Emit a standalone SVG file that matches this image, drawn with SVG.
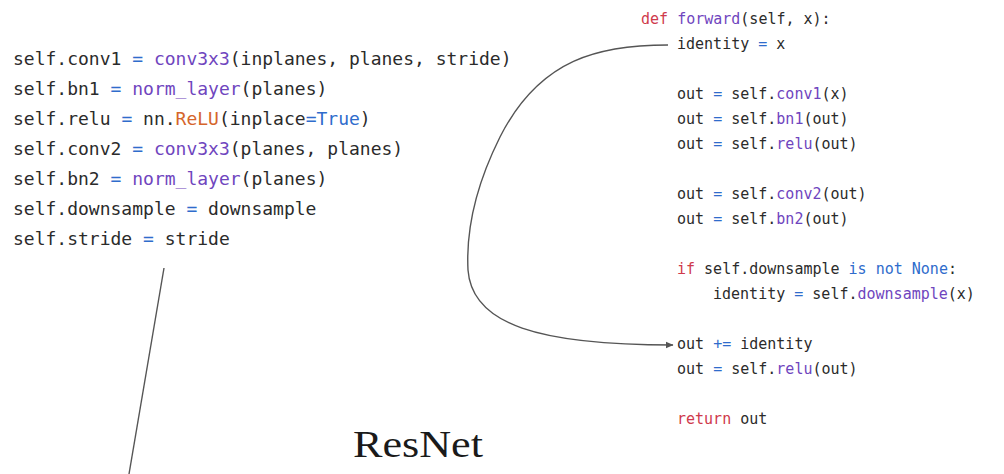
<svg xmlns="http://www.w3.org/2000/svg" width="1004" height="474" viewBox="0 0 1004 474">
<style>
.code{font-family:"DejaVu Sans Mono","Liberation Mono",monospace;fill:#2b2b2b;white-space:pre}
.l{font-size:18px}
.r{font-size:15px}
.kw{fill:#cf3a4c}
.fn{fill:#6f45be}
.op{fill:#2f6ccc}
.cl{fill:#d5652b}
.conn{fill:none;stroke:#555;stroke-width:1.4}
.title{font-family:"Liberation Serif","DejaVu Serif",serif;font-size:38px;fill:#1a1a1a}
</style>
<defs>
<marker id="arr" markerWidth="8" markerHeight="8" refX="7" refY="4" orient="auto" markerUnits="userSpaceOnUse">
<path d="M0,0.8 L7.5,4 L0,7.2 Z" fill="#555"/>
</marker>
</defs>
<rect width="1004" height="474" fill="#fff"/>
<g id="init-code" class="code l">
<text x="13" y="65" xml:space="preserve">self.conv1 <tspan class="op">=</tspan> <tspan class="fn">conv3x3</tspan>(inplanes, planes, stride)</text>
<text x="13" y="95" xml:space="preserve">self.bn1 <tspan class="op">=</tspan> <tspan class="fn">norm_layer</tspan>(planes)</text>
<text x="13" y="125" xml:space="preserve">self.relu <tspan class="op">=</tspan> nn.<tspan class="cl">ReLU</tspan>(inplace<tspan class="op">=True</tspan>)</text>
<text x="13" y="155" xml:space="preserve">self.conv2 <tspan class="op">=</tspan> <tspan class="fn">conv3x3</tspan>(planes, planes)</text>
<text x="13" y="185" xml:space="preserve">self.bn2 <tspan class="op">=</tspan> <tspan class="fn">norm_layer</tspan>(planes)</text>
<text x="13" y="215" xml:space="preserve">self.downsample <tspan class="op">=</tspan> downsample</text>
<text x="13" y="245" xml:space="preserve">self.stride <tspan class="op">=</tspan> stride</text>
</g>
<g id="forward-code" class="code r">
<text x="641" y="24" xml:space="preserve"><tspan class="kw">def</tspan> <tspan class="fn">forward</tspan>(self, x):</text>
<text x="677" y="49" xml:space="preserve">identity <tspan class="op">=</tspan> x</text>
<text x="677" y="99" xml:space="preserve">out <tspan class="op">=</tspan> self.<tspan class="fn">conv1</tspan>(x)</text>
<text x="677" y="124" xml:space="preserve">out <tspan class="op">=</tspan> self.<tspan class="fn">bn1</tspan>(out)</text>
<text x="677" y="149" xml:space="preserve">out <tspan class="op">=</tspan> self.<tspan class="fn">relu</tspan>(out)</text>
<text x="677" y="199" xml:space="preserve">out <tspan class="op">=</tspan> self.<tspan class="fn">conv2</tspan>(out)</text>
<text x="677" y="224" xml:space="preserve">out <tspan class="op">=</tspan> self.<tspan class="fn">bn2</tspan>(out)</text>
<text x="677" y="274" xml:space="preserve"><tspan class="kw">if</tspan> self.downsample <tspan class="op">is not None</tspan>:</text>
<text x="713" y="299" xml:space="preserve">identity <tspan class="op">=</tspan> self.<tspan class="fn">downsample</tspan>(x)</text>
<text x="677" y="349" xml:space="preserve">out <tspan class="op">+=</tspan> identity</text>
<text x="677" y="374" xml:space="preserve">out <tspan class="op">=</tspan> self.<tspan class="fn">relu</tspan>(out)</text>
<text x="677" y="424" xml:space="preserve"><tspan class="kw">return</tspan> out</text>
</g>
<g id="title">
<text class="title" x="353" y="457" textLength="130" lengthAdjust="spacingAndGlyphs">ResNet</text>
</g>
<g id="connectors">
<path class="conn" d="M668,45 C600,45 540,58 500,137 C476,185 466,230 468,270 C472,325 540,345 673,345" marker-end="url(#arr)"/>
<path class="conn" d="M164,268 L129,474"/>
</g>
</svg>
